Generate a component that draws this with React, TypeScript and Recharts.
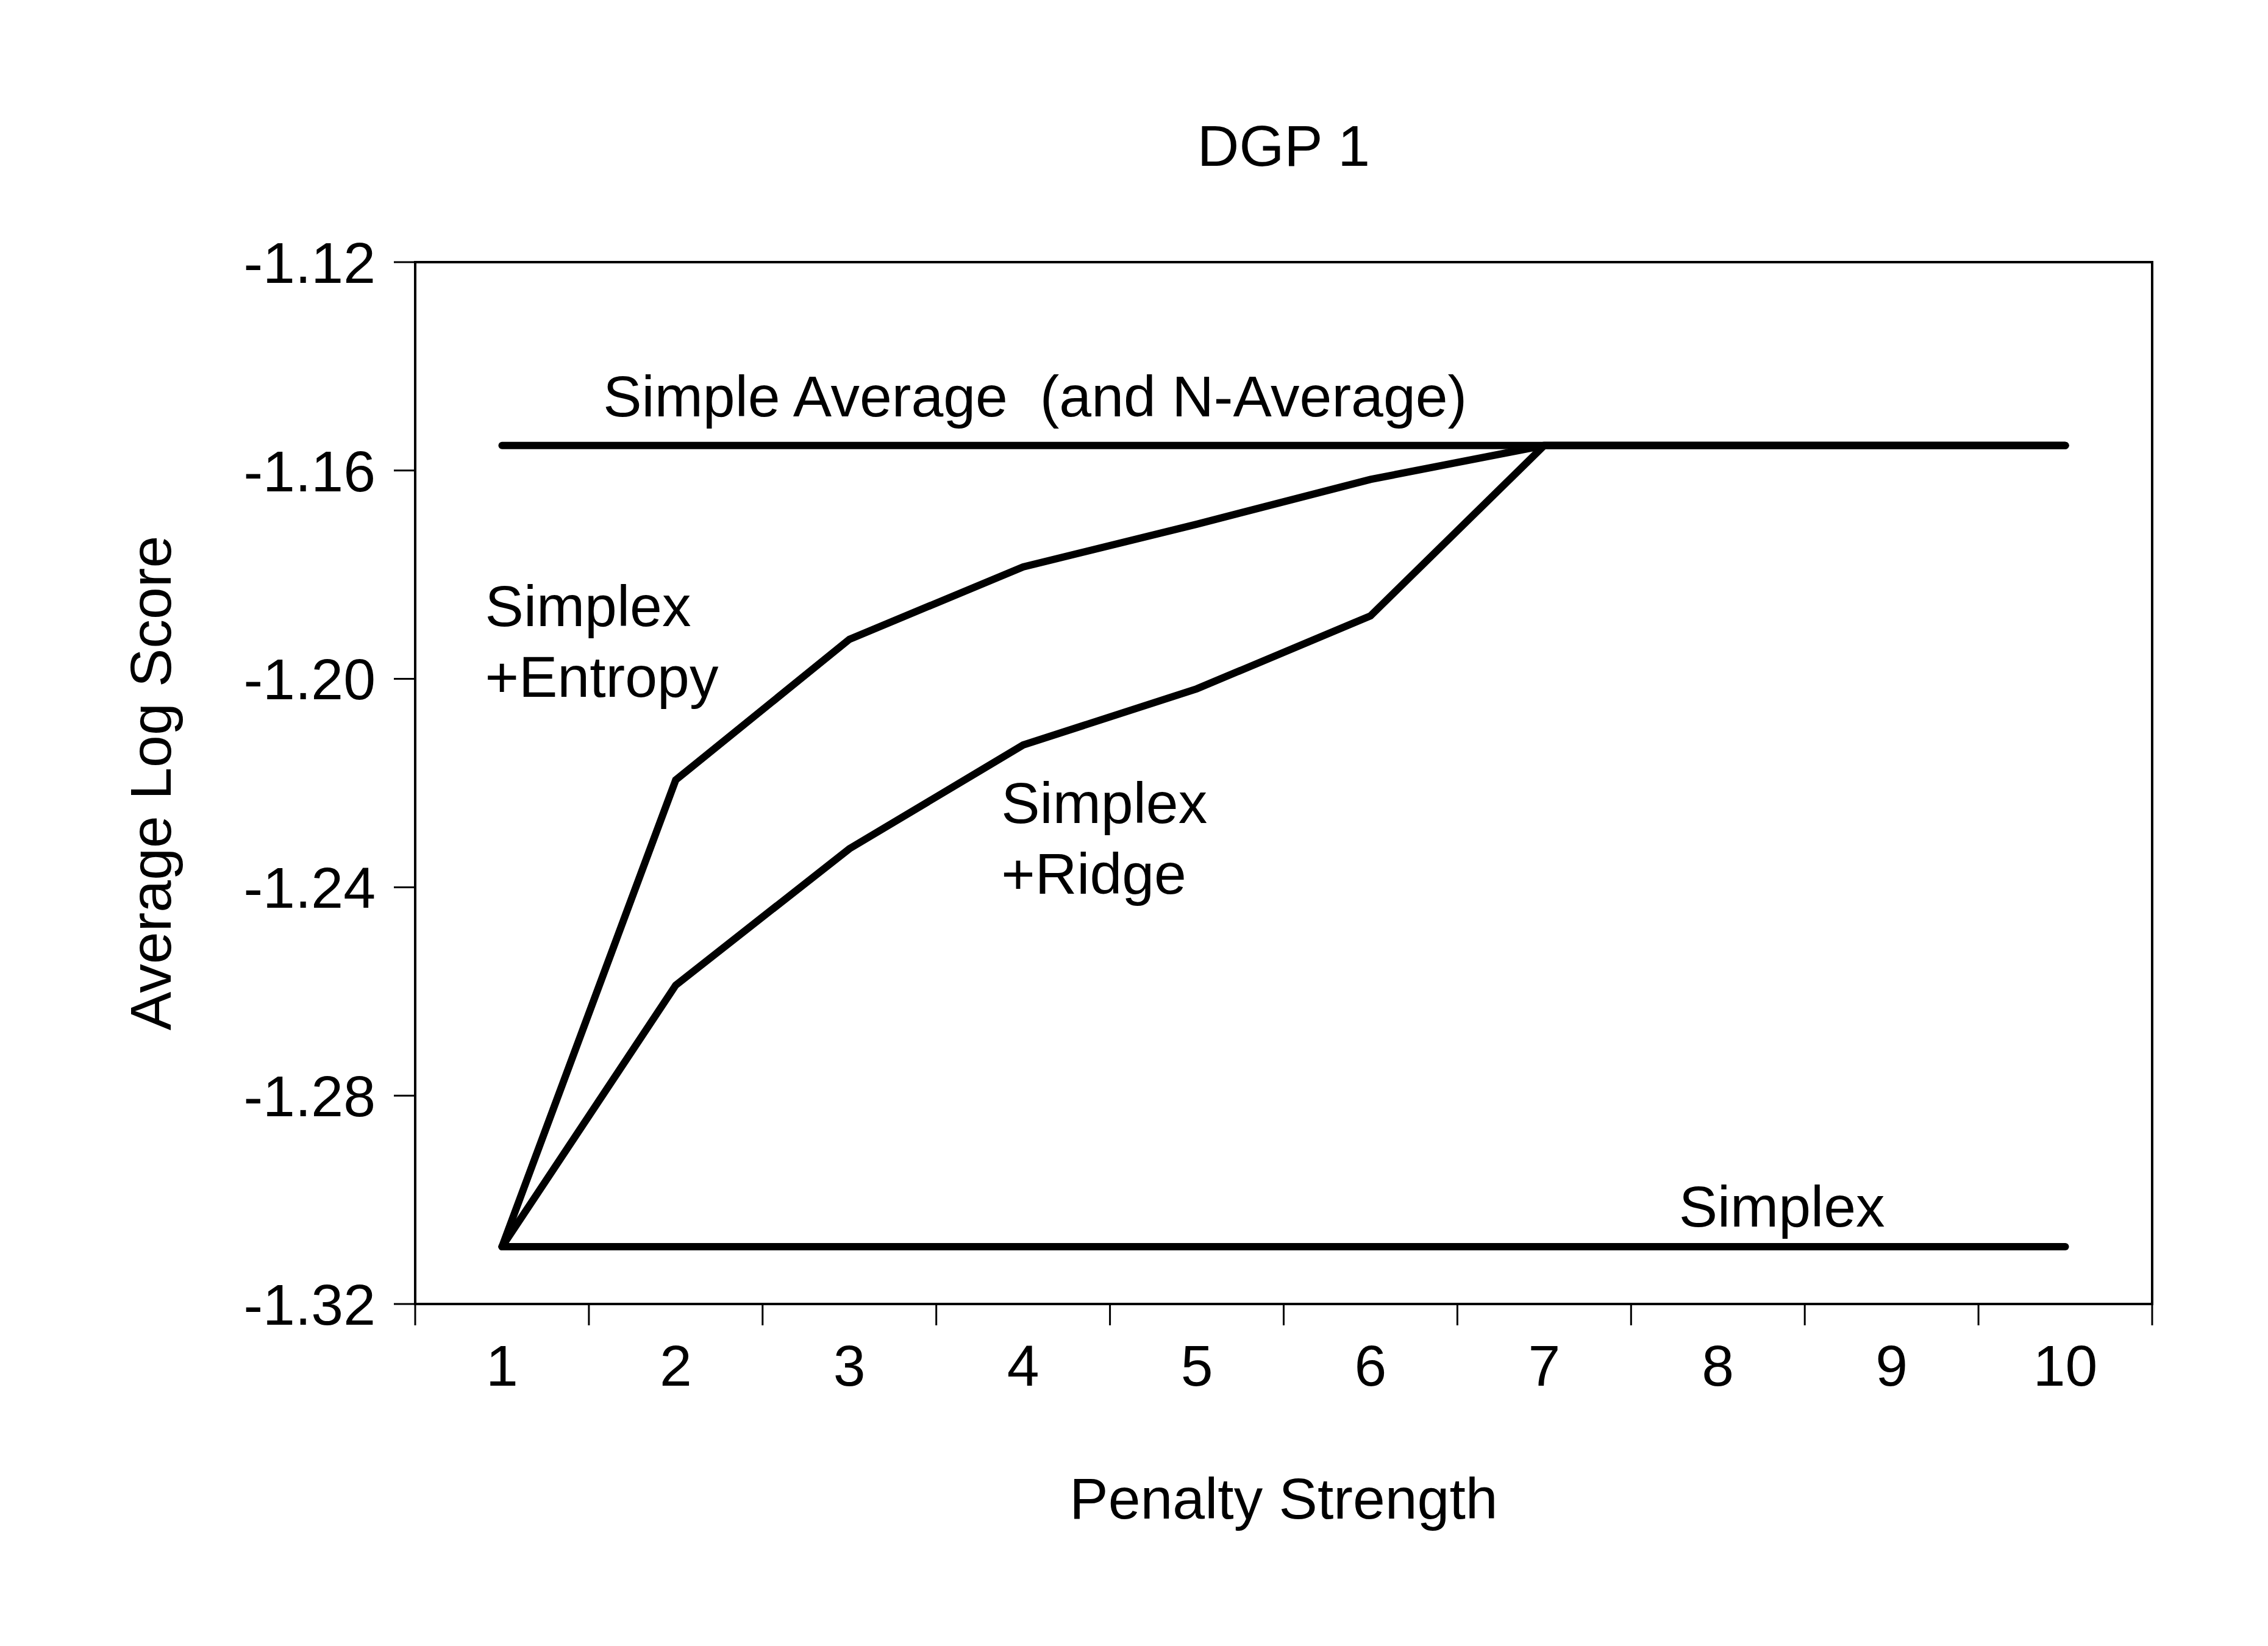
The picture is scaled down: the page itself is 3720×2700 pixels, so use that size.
import React from "react";
import {
  LineChart,
  Line,
  XAxis,
  YAxis,
  ReferenceArea,
  ReferenceDot,
} from "recharts";

// penalty strength on the x axis
const penalty = [1, 2, 3, 4, 5, 6, 7, 8, 9, 10];

// average log score per series
const simpleAverage = [-1.1552, -1.1552, -1.1552, -1.1552, -1.1552, -1.1552, -1.1552, -1.1552, -1.1552, -1.1552];
const simplex = [-1.309, -1.309, -1.309, -1.309, -1.309, -1.309, -1.309, -1.309, -1.309, -1.309];
const simplexEntropy = [-1.309, -1.2194, -1.1924, -1.1785, -1.1703, -1.1617, -1.1552, -1.1552, -1.1552, -1.1552];
const simplexRidge = [-1.309, -1.2588, -1.2326, -1.2127, -1.2019, -1.1879, -1.1552, -1.1552, -1.1552, -1.1552];

const yTicks = [-1.32, -1.28, -1.24, -1.2, -1.16, -1.12];
const xBoundaries = [0.5, 1.5, 2.5, 3.5, 4.5, 5.5, 6.5, 7.5, 8.5, 9.5, 10.5];

// in-plot annotations: [x, y, lines]
const notes: { x: number; y: number; lines: string[] }[] = [
  { x: 1.582, y: -1.1496, lines: ["Simple Average\u00a0 (and N-Average)"] },
  { x: 0.902, y: -1.1899, lines: ["Simplex", "+Entropy"] },
  { x: 3.874, y: -1.2277, lines: ["Simplex", "+Ridge"] },
  { x: 7.775, y: -1.3051, lines: ["Simplex"] },
];

const W = 3720;
const H = 2700;
const M = { top: 430, right: 190, bottom: 0, left: 0 };
const Y_AXIS_W = 681;
const X_AXIS_H = 561;
const PLOT_W = W - M.left - M.right - Y_AXIS_W;
const HALF_BAND = PLOT_W / (xBoundaries.length - 1) / 2;
const FONT = "Arial, 'Liberation Sans', sans-serif";
const FS = 95;

const rows = penalty.map((p, i) => ({
  x: p,
  avg: simpleAverage[i],
  simplex: simplex[i],
  entropy: simplexEntropy[i],
  ridge: simplexRidge[i],
}));

function XTick(props: any) {
  const { x, y, payload } = props;
  const v = payload.value;
  if (v > 10) return null;
  return (
    <text x={x + HALF_BAND} y={y + 99} textAnchor="middle" fontSize={FS} fontFamily={FONT} fill="#000">
      {String(v + 0.5)}
    </text>
  );
}

function Note(props: any, lines: string[]) {
  const { cx, cy } = props;
  return (
    <text x={cx} y={cy} fontSize={FS} fontFamily={FONT} fill="#000" style={{ whiteSpace: "pre" }}>
      {lines.map((l, i) => (
        <tspan key={i} x={cx} dy={i === 0 ? 0 : 116}>
          {l}
        </tspan>
      ))}
    </text>
  );
}

export default function App() {
  const plotCenterX = M.left + Y_AXIS_W + PLOT_W / 2;
  const line = { stroke: "#000", strokeWidth: 12, dot: false, isAnimationActive: false, strokeLinecap: "round" as const, type: "linear" as const };
  return (
    <div style={{ position: "absolute", left: 0, top: 0, width: W, height: H, background: "#fff" }}>
      <LineChart width={W} height={H} data={rows} margin={M}>
        <XAxis
          dataKey="x"
          type="number"
          domain={[0.5, 10.5]}
          ticks={xBoundaries}
          allowDataOverflow
          height={X_AXIS_H}
          tickSize={35}
          tickMargin={0}
          axisLine={{ stroke: "#000", strokeWidth: 4 }}
          tickLine={{ stroke: "#000", strokeWidth: 3 }}
          tick={<XTick />}
          interval={0}
          label={{
            content: (p: any) => (
              <text x={p.viewBox.x + p.viewBox.width / 2} y={p.viewBox.y + 352} textAnchor="middle" fontSize={FS} fontFamily={FONT} fill="#000">
                Penalty Strength
              </text>
            ),
          }}
        />
        <YAxis
          type="number"
          domain={[-1.32, -1.12]}
          ticks={yTicks}
          allowDataOverflow
          width={Y_AXIS_W}
          tickSize={35}
          tickMargin={30}
          interval={0}
          axisLine={{ stroke: "#000", strokeWidth: 4 }}
          tickLine={{ stroke: "#000", strokeWidth: 3 }}
          tick={{ fontSize: FS, fontFamily: FONT, fill: "#000" }}
          tickFormatter={(v: number) => v.toFixed(2)}
          label={{
            content: (p: any) => {
              const x = p.viewBox.x + 280;
              const y = p.viewBox.y + p.viewBox.height / 2;
              return (
                <text x={x} y={y} transform={`rotate(-90, ${x}, ${y})`} textAnchor="middle" fontSize={FS} fontFamily={FONT} fill="#000">
                  Average Log Score
                </text>
              );
            },
          }}
        />
        <ReferenceArea x1={0.5} x2={10.5} y1={-1.32} y2={-1.12} fill="none" fillOpacity={0} stroke="#000" strokeWidth={4} ifOverflow="visible" />
        <Line dataKey="avg" {...line} />
        <Line dataKey="simplex" {...line} />
        <Line dataKey="entropy" {...line} />
        <Line dataKey="ridge" {...line} />
        {notes.map((n, i) => (
          <ReferenceDot key={i} x={n.x} y={n.y} r={0} ifOverflow="visible" shape={(p: any) => Note(p, n.lines)} />
        ))}
      </LineChart>
      <svg width={W} height={320} style={{ position: "absolute", left: 0, top: 0, pointerEvents: "none" }}>
        <text x={plotCenterX} y={272} textAnchor="middle" fontSize={FS} fontFamily={FONT} fill="#000">
          DGP 1
        </text>
      </svg>
    </div>
  );
}
